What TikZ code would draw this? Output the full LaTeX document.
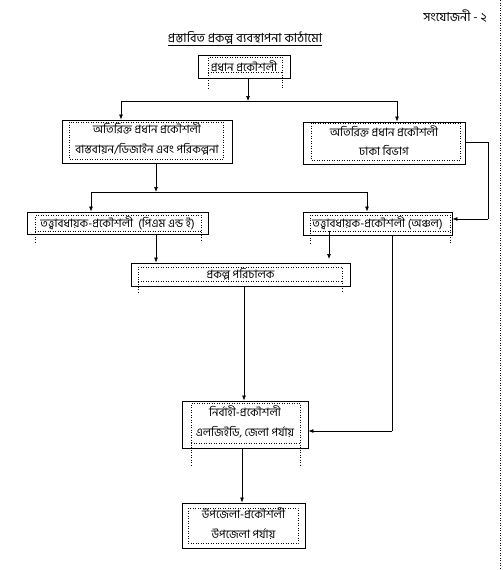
\documentclass[tikz,border=0pt]{standalone}
\usepackage{fontspec}
\newfontfamily\bn[Script=Bengali]{Hind Siliguri}
\usetikzlibrary{arrows.meta,calc}
\begin{document}
\begin{tikzpicture}[x=1pt,y=-1pt,
  box/.style={draw,line width=0.9pt,inner sep=0pt},
  txt/.style={font=\bn\fontsize{11.5}{19.5}\selectfont,align=center,inner sep=0pt},
  arr/.style={line width=0.7pt,-{Latex[length=5pt,width=4pt]}},
  ln/.style={line width=0.7pt},
  dot/.style={dotted,line width=0.5pt},
  lbl/.style={inner sep=0pt}]
\useasboundingbox (0,0) rectangle (503,570);
\fill[white] (0,0) rectangle (503,570);
\draw[dot] (500,0) -- (500,570);
% titles
\node[lbl,font=\bn\fontsize{12.5}{14}\selectfont] (ttl) at (455,16) {সংযোজনী - ২};
\node[lbl,font=\bn\fontsize{12.5}{14}\selectfont] (sub) at (245,38) {প্রস্তাবিত প্রকল্প ব্যবস্থাপনা কাঠামো};
\draw[line width=0.6pt] ($(sub.south west)+(0,1)$) -- ($(sub.south east)+(0,1)$);
% boxes
\node[box,minimum width=92pt,minimum height=23pt] (b1) at (244,66.5) {};
\node[txt] (t1) at (b1.center) {প্রধান প্রকৌশলী};
\node[box,minimum width=170pt,minimum height=43pt] (b2) at (147,141.5) {};
\node[txt,yshift=2.5pt] (t2) at (b2.center) {অতিরিক্ত প্রধান প্রকৌশলী\\বাস্তবায়ন/ডিজাইন এবং পরিকল্পনা};
\node[box,minimum width=162pt,minimum height=42pt] (b3) at (384,143) {};
\node[txt,yshift=2.5pt] (t3) at (b3.center) {অতিরিক্ত প্রধান প্রকৌশলী\\ঢাকা বিভাগ};
\node[box,minimum width=181pt,minimum height=22pt] (b4) at (117.5,223) {};
\node[txt] (t4) at (b4.center) {তত্ত্বাবধায়ক-প্রকৌশলী\ \ (পিএম এন্ড ই)};
\node[box,minimum width=149pt,minimum height=23pt] (b5) at (377.5,223.5) {};
\node[txt] (t5) at (b5.center) {তত্ত্বাবধায়ক-প্রকৌশলী (অঞ্চল)};
\node[box,minimum width=219pt,minimum height=23pt] (b6) at (240.5,274.5) {};
\node[txt] (t6) at (b6.center) {প্রকল্প পরিচালক};
\node[box,minimum width=126pt,minimum height=47pt] (b7) at (245,424.5) {};
\node[txt,yshift=2.5pt] (t7) at (b7.center) {নির্বাহী-প্রকৌশলী\\এলজিইডি, জেলা পর্যায়};
\node[box,minimum width=123pt,minimum height=45pt] (b8) at (243.5,525.5) {};
\node[txt,yshift=2pt] (t8) at (b8.center) {উপজেলা-প্রকৌশলী\\উপজেলা পর্যায়};
% dotted inner frames
\draw[dot] (208,88) -- (208,57) -- (282,57) -- (282,88); \draw[dot] (208,72) -- (282,72);
\draw[dot] (69,122) rectangle (223,159);
\draw[dot] (311,123) rectangle (460,160);
\draw[dot] (35,242) -- (35,215) -- (201,215) -- (201,242); \draw[dot] (35,231) -- (201,231);
\draw[dot] (310,243) -- (310,215) -- (450,215) -- (450,243); \draw[dot] (310,231) -- (450,231);
\draw[dot] (138,292) -- (138,267) -- (342,267) -- (342,292); \draw[dot] (138,281) -- (342,281);
\draw[dot] (191,465) -- (191,403) -- (300,403) -- (300,465); \draw[dot] (191,443) -- (300,443);
\draw[dot] (188,508) rectangle (298,543);
% connectors
\coordinate (j1) at (248,101);
\coordinate (j1l) at (121,101);
\coordinate (j1r) at (397,101);
\draw[arr] (b1.south -| j1) -- (j1);
\draw[ln] (j1l) -- (j1r);
\draw[arr] (j1l) -- (j1l |- b2.north);
\draw[arr] (j1r) -- (j1r |- b3.north);
\coordinate (j2) at (156,192);
\coordinate (j2l) at (91,192);
\coordinate (j2r) at (367,192);
\draw[arr] (b2.south -| j2) -- (j2);
\draw[ln] (j2l) -- (j2r);
\draw[arr] (j2l) -- (j2l |- b4.north);
\draw[arr] (j2r) -- (j2r |- b5.north);
\coordinate (c4) at (156,250);
\draw[arr] (b4.south -| c4) -- (b6.north -| c4);
\coordinate (c5) at (329,250);
\draw[arr] (c5 |- 0,231) -- (c5 |- 0,259);
\coordinate (r3) at (488,142);
\coordinate (r5) at (488,219);
\draw[ln] (b3.east |- r3) -- (r3) -- (r5);
\draw[arr] (r5) -- (b5.east |- r5);
\coordinate (c7a) at (392,431);
\draw[ln] (b5.south -| c7a) -- (c7a);
\draw[arr] (c7a) -- (b7.east |- c7a);
\coordinate (c6) at (244,350);
\draw[arr] (b6.south -| c6) -- (b7.north -| c6);
\coordinate (c8) at (242,470);
\draw[arr] (b7.south -| c8) -- (b8.north -| c8);
\end{tikzpicture}
\end{document}
